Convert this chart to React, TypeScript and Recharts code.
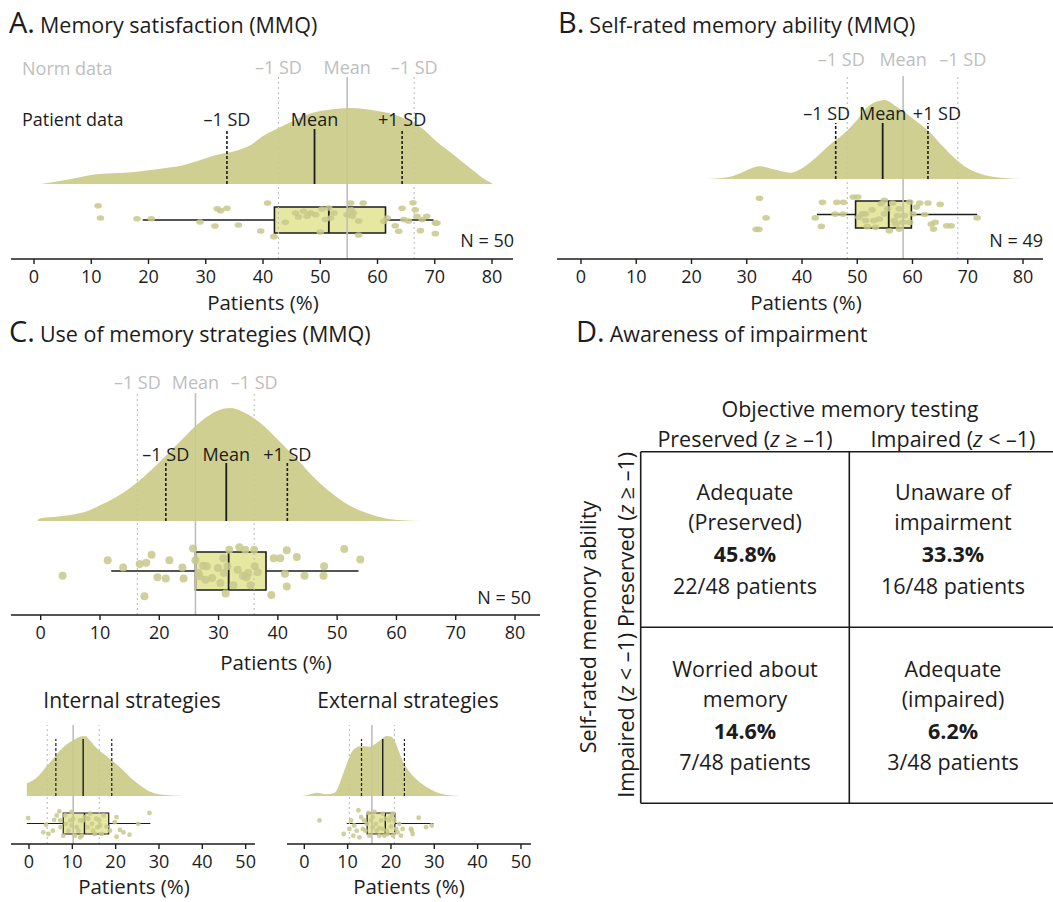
import React from 'react';
import {
  ComposedChart,
  Area,
  Scatter,
  XAxis,
  YAxis,
  ReferenceLine,
  ReferenceArea,
  ReferenceDot,
} from 'recharts';

const FONT = '"Open Sans", "Noto Sans", "DejaVu Sans", sans-serif';
const INK = '#1c1c1c';
const NORM = '#bebebe';
const DENS_FILL = '#c9ca84';
const BOX_FILL = '#e6e8a2';
const DOT_FILL = '#c7c88b';

// ---------- tick labels ----------
const ticks80 = [0, 10, 20, 30, 40, 50, 60, 70, 80];
const ticks50 = [0, 10, 20, 30, 40, 50];
const patientLabels = ['\u20131 SD', 'Mean', '+1 SD'];
const normLabels = ['\u20131 SD', 'Mean', '\u20131 SD'];

// ---------- A. Memory satisfaction ----------
const densityA: [number, number][] = [
  [1.2, 0], [3, 0.02], [5, 0.045], [8, 0.09], [10, 0.12], [12, 0.135], [15, 0.145], [18, 0.16],
  [20, 0.18], [23, 0.21], [25, 0.23], [28, 0.29], [30, 0.34], [33, 0.4], [35, 0.43], [38, 0.52],
  [40, 0.63], [42, 0.71], [45, 0.82], [48, 0.92], [50, 0.96], [53, 0.99], [55, 1.0], [58, 0.985],
  [60, 0.96], [63, 0.91], [65, 0.85], [68, 0.72], [70, 0.58], [72, 0.46], [75, 0.28], [77, 0.16],
  [78, 0.1], [79, 0.05], [80, 0.01],
];
const pointsA: [number, number][] = [
  [11.2, 1.1], [11.6, 0.15], [18, 0.1], [20.5, 0.1], [29, -0.15], [31.6, -0.46], [32, 0.87],
  [32.6, 0.72], [33.7, 0.9], [35.7, -0.38], [39.6, -0.85], [40.8, 1.31], [41.9, -1.28], [43.9, -0.18],
  [45.7, 0.54], [46.2, 0.23], [47.1, 0.67], [48.3, 0.54], [49.2, 0.41], [50, -0.92], [50.3, 0.85],
  [50.9, 0.03], [51.5, 0.92], [51.8, 0.15], [55.3, 1.31], [55.4, 0.79], [55.6, 0.28], [55.8, 0.54],
  [56.7, -0.08], [56.7, -1.15], [57.5, 1.31], [61.1, -0.1], [61.7, 0.15], [63.1, -0.44], [63.7, -0.87],
  [64.3, 0.9], [64.6, 0.03], [65.4, -0.08], [66.2, 1.33], [66.6, 0.79], [66.9, 0.28], [67.5, -0.82],
  [67.8, 0.03], [68.6, 0.28], [70.1, -0.23], [70.1, -1.05], [70.4, -0.23], [52.4, 0.54], [54.7, 0.41],
  [47.7, 0.28],
];
const boxA = [19, 42, 51.5, 61.4, 69.8];
const normA = [42.7, 54.7, 66.4];
const patientA = [33.7, 49, 64.3];

// ---------- B. Self-rated memory ability ----------
const densityB: [number, number][] = [
  [22.6, 0], [25, 0.01], [27, 0.03], [29, 0.08], [30, 0.11], [32.5, 0.16], [35, 0.12], [38, 0.08],
  [40, 0.135], [42, 0.24], [45, 0.43], [48, 0.6], [50, 0.75], [52, 0.92], [53.5, 0.98], [55, 1.0],
  [57, 0.92], [60, 0.77], [63, 0.6], [65, 0.45], [68, 0.24], [70, 0.135], [73, 0.05], [76, 0.015],
  [79.7, 0],
];
const pointsB: [number, number][] = [
  [32.3, 1.2], [33.5, -0.25], [31.7, -1.1], [32.2, -1.1], [42.4, -0.25], [43.5, -0.88], [43.7, 0.9],
  [46.3, 0.9], [47.5, 0.9], [46, 0.03], [47.4, 0.03], [49.3, 1.3], [50.1, 1.3], [50.3, -0.2],
  [50.9, 0.05], [51.5, -0.45], [51.8, -0.9], [52.7, 0.35], [53.3, -0.95], [54, -0.33], [54.3, 0.8],
  [54.9, 0.05], [55.5, 0.43], [55.8, -1.2], [56.4, 0.85], [56.7, -0.45], [57.3, -0.08], [57.6, 0.43],
  [57.6, -1.08], [58.2, -0.58], [58.5, -0.08], [59.5, 0.93], [59.5, -0.58], [60.1, 0.05], [60.7, 0.55],
  [61.3, 0.85], [62.2, 0], [62.8, 0.85], [63.4, -0.7], [63.8, -1.08], [64.1, -0.58], [65, 0.75],
  [66.2, -0.83], [67, -0.83], [71.7, -0.25], [51.5, 0.05], [53, -0.45], [57, -0.7], [54.9, 1.05],
];
const boxB = [42.7, 49.7, 55.7, 59.8, 71.7];
const normB = [48.2, 58.3, 68.2];
const patientB = [46.1, 54.6, 62.8];

// ---------- C. Use of memory strategies ----------
const densityC: [number, number][] = [
  [-0.5, 0.01], [0, 0.024], [3, 0.04], [5, 0.053], [8, 0.09], [10, 0.14], [12, 0.19], [15, 0.29],
  [18, 0.42], [21, 0.57], [24, 0.73], [27, 0.88], [30, 0.98], [32, 1.0], [34, 0.97], [37, 0.87],
  [40, 0.72], [43, 0.56], [46, 0.39], [49, 0.25], [52, 0.14], [55, 0.07], [58, 0.025], [61, 0.007],
  [64, 0],
];
const pointsC: [number, number][] = [
  [3.7, -0.25], [11.3, 0.56], [13.9, 0.19], [16.7, 0.37], [17.8, 0.44], [17.5, -1.33], [18.7, 0.86],
  [19.7, -0.33], [21.1, -0.39], [21.7, 0.56], [23.9, 0.19], [24.1, -0.39], [25.7, 1.18], [26.1, 0.56],
  [26.6, -0.11], [27.4, 0.28], [27.8, -0.46], [28.9, -0.37], [29.9, 0.16], [30.8, 0.67], [31.2, -1.19],
  [31.5, 0.25], [31.8, 1.12], [32.5, -0.75], [33.5, 1.25], [34.1, -0.25], [34.5, 1.12], [34.7, -0.33],
  [35.4, -0.75], [36, 1.12], [36.6, -0.07], [36.1, 0.25], [38.9, -1.26], [39.3, 0.67], [40.4, 0.67],
  [41.2, -0.14], [41.5, 1.09], [41.5, -0.81], [43.2, 0.74], [44.5, -0.25], [47.8, 0.25], [47.7, -0.25],
  [51.2, 1.16], [53.9, 0.6], [30.9, -0.11], [28, 0.25], [26.8, -0.28], [33.2, 0.07], [35, -0.11],
  [30.3, -0.63],
];
const boxC = [11.9, 26.1, 31.7, 38.0, 53.6];
const normC = [16.3, 26.1, 36.0];
const patientC = [21.1, 31.3, 41.6];

// ---------- Internal strategies ----------
const densityInt: [number, number][] = [
  [-0.5, 0.21], [2, 0.32], [4, 0.49], [6, 0.66], [8, 0.82], [10, 0.92], [12, 0.99], [13, 1.0],
  [14, 0.93], [16, 0.77], [18, 0.66], [20, 0.54], [22, 0.41], [24, 0.27], [26, 0.16], [28, 0.07],
  [30, 0.03], [33, 0.01], [36, 0],
];
const pointsInt: [number, number][] = [
  [-0.2, 0.52], [3.3, -0.84], [3.9, -0.13], [4.5, -1.0], [5.5, -0.68], [5.8, 0.35], [6.4, 0.77],
  [7, 1.16], [7.3, -0.35], [8.3, 0.77], [8.5, -0.03], [9.1, -0.68], [9.8, 1.1], [10.2, 0.45],
  [10.6, -1.16], [11, -0.35], [11.4, -0.68], [11.8, -1.32], [12.2, -1.16], [12.5, 0.29], [12.9, 0.61],
  [13.5, -0.35], [14.1, 0.94], [14.5, -0.03], [14.8, -0.68], [15.5, 0.45], [15.8, -0.35], [16.2, 0.29],
  [16.8, -1.0], [17.2, 0.77], [17.9, -0.29], [19.8, 0.13], [20.2, 0.61], [20.2, -1.26], [21, -0.61],
  [21.8, -0.84], [23.2, -1.06], [25.2, -0.03], [27.8, 1.0], [9.5, 0.29], [7.9, -1.16], [13.7, 0.45],
  [16.4, -0.19], [18.7, -0.68], [9.8, -0.19], [11.8, 0.29], [15.2, -1.0], [7.2, 0.29],
];
const boxInt = [-0.5, 7.9, 12.8, 18.4, 28.0];
const normInt = [4.2, 10.2, 16.2];
const patientInt = [6.2, 12.5, 19.1];

// ---------- External strategies ----------
const densityExt: [number, number][] = [
  [-0.5, 0], [1, 0.02], [3, 0.055], [5, 0.03], [7, 0.055], [8, 0.18], [9, 0.38], [10, 0.57],
  [11, 0.74], [12, 0.81], [13, 0.83], [14, 0.83], [15, 0.82], [16, 0.85], [17, 0.9], [18, 0.96],
  [19, 1.0], [20, 0.99], [21, 0.9], [22, 0.71], [23, 0.54], [24, 0.43], [26, 0.27], [28, 0.16],
  [30, 0.08], [32, 0.03], [34, 0.01], [36, 0],
];
const pointsExt: [number, number][] = [
  [3.5, 0.29], [9.1, -1.0], [10.4, -0.52], [10.8, 0.29], [11.3, -1.16], [11.5, -0.19], [12.1, -0.68],
  [12.5, 1.26], [12.7, -1.32], [13.1, 0.61], [13.5, -0.52], [14.1, -0.68], [14.4, -0.03], [14.8, 1.0],
  [15.4, 0.29], [15.8, 0.61], [16.2, 1.1], [16.7, -0.68], [17.3, -0.42], [17.7, 0.29], [18.1, 0.94],
  [18.5, -1.16], [19, -0.68], [19.6, 0.29], [20, -0.29], [20.4, 0.94], [20.5, -1.16], [20.8, 0.29],
  [21.2, -0.52], [21.5, -0.84], [22.3, -1.16], [22.7, -0.52], [24.6, -0.52], [25, -1.0], [24.8, -0.68],
  [26.4, 0.55], [28.1, -0.35], [29.4, -0.19], [19.2, -1.0], [17.3, -1.16], [15, -1.16], [13.8, 0.29],
  [18.8, 0.45], [16.5, -0.03], [20, 0.61], [15.8, -0.35], [18.1, -0.52], [21.9, -0.03],
];
const boxExt = [9.8, 14.5, 18.7, 20.9, 29.8];
const normExt = [10.4, 15.6, 20.8];
const patientExt = [13.2, 18.1, 23.1];

// ---------- D. Awareness of impairment ----------
const colTitle = 'Objective memory testing';
const rowTitle = 'Self-rated memory ability';
const headerWords = ['Preserved', 'Impaired'];
const headerConds = ['\u2265 \u20131)', '< \u20131)'];
const cellLabels = [
  ['Adequate', '(Preserved)'],
  ['Unaware of', 'impairment'],
  ['Worried about', 'memory'],
  ['Adequate', '(impaired)'],
];
const cellPct = ['45.8%', '33.3%', '14.6%', '6.2%'];
const cellCounts = ['22/48 patients', '16/48 patients', '7/48 patients', '3/48 patients'];

// ---------- layout ----------
type Layout = {
  left: number; top: number; width: number; height: number;
  plotTop: number; axisY: number; axisL: number; axisR: number;
  x0: number; ppu: number; ticks: number[];
  densBase: number; densPeak: number;
  boxTop: number; boxBottom: number;
  normTop: number; patTop: number;
  normLabelY?: number; patLabelY?: number;
  normDx?: number[]; patDx?: number[];
  rx: number; ry: number;
  thin?: boolean;
};

const XH = 40;

const LA: Layout = {
  left: 0, top: 0, width: 530, height: 330, plotTop: 50, axisY: 259, axisL: 11, axisR: 513,
  x0: 34, ppu: 5.725, ticks: ticks80, densBase: 184, densPeak: 108, boxTop: 207, boxBottom: 233,
  normTop: 77, patTop: 129, normLabelY: 67, patLabelY: 119, rx: 3.8, ry: 2.8,
};
const LB: Layout = {
  left: 530, top: 0, width: 523, height: 330, plotTop: 50, axisY: 259, axisL: 557, axisR: 1043,
  x0: 581, ppu: 5.525, ticks: ticks80, densBase: 179, densPeak: 100, boxTop: 201, boxBottom: 228,
  normTop: 76, patTop: 123, normLabelY: 59, patLabelY: 113, normDx: [-6, 0, 5], patDx: [-9, 0, 9],
  rx: 3.8, ry: 2.8,
};
const LC: Layout = {
  left: 0, top: 360, width: 550, height: 310, plotTop: 375, axisY: 615, axisL: 11, axisR: 540,
  x0: 40.7, ppu: 5.929, ticks: ticks80, densBase: 521, densPeak: 408, boxTop: 552, boxBottom: 590,
  normTop: 393, patTop: 463, normLabelY: 382, patLabelY: 454, rx: 4, ry: 4,
};
const LI: Layout = {
  left: 0, top: 690, width: 270, height: 212, plotTop: 715, axisY: 844, axisL: 11, axisR: 255,
  x0: 29, ppu: 4.333, ticks: ticks50, densBase: 796, densPeak: 736, boxTop: 813, boxBottom: 834,
  normTop: 725, patTop: 739, rx: 2.4, ry: 2.4, thin: true,
};
const LE: Layout = {
  left: 280, top: 690, width: 270, height: 212, plotTop: 715, axisY: 844, axisL: 287, axisR: 531,
  x0: 304.3, ppu: 4.333, ticks: ticks50, densBase: 796, densPeak: 736, boxTop: 813, boxBottom: 834,
  normTop: 725, patTop: 739, rx: 2.4, ry: 2.4, thin: true,
};

type PanelProps = {
  L: Layout;
  density: [number, number][];
  points: [number, number][];
  box: number[];
  norm: number[];
  patient: number[];
};

function Raincloud({ L, density, points, box, norm, patient }: PanelProps) {
  const plotH = L.axisY - L.plotTop;
  const toY = (py: number) => L.axisY - py;
  const dMin = (L.axisL - L.x0) / L.ppu;
  const dMax = (L.axisR - L.x0) / L.ppu;
  const base = toY(L.densBase);
  const amp = L.densBase - L.densPeak;
  const densData = density.map(([x, h]) => ({ x, y: [base, base + h * amp] }));
  const bc = toY((L.boxTop + L.boxBottom) / 2);
  const bh = (L.boxBottom - L.boxTop) / 2;
  const ptsData = points.map(([x, j]) => ({ x, y: bc + j * bh }));
  const normTopY = toY(L.normTop);
  const patTopY = toY(L.patTop);
  const lw = L.thin ? 1.2 : 1.6;
  const [lo, q1, med, q3, hi] = box;
  const margin = {
    top: L.plotTop - L.top,
    left: L.axisL - L.left,
    right: L.left + L.width - L.axisR,
    bottom: L.top + L.height - L.axisY - XH,
  };
  const underMargin = { ...margin, bottom: L.top + L.height - L.axisY };

  const label = (txt: string, color: string, dx: number) => (p: any) => (
    <text
      x={(p.cx ?? 0) + dx}
      y={p.cy ?? 0}
      textAnchor="middle"
      dominantBaseline="central"
      fontFamily={FONT}
      fontSize={18}
      fill={color}
    >
      {txt}
    </text>
  );

  const normLine = (v: number, i: number, y0: number, y1: number, key: string) => (
    <ReferenceLine
      key={key}
      segment={[{ x: v, y: y0 }, { x: v, y: y1 }]}
      stroke={NORM}
      strokeWidth={i === 1 ? 1.6 : 1.1}
      strokeDasharray={i === 1 ? undefined : '2 3'}
    />
  );

  return (
    <div style={{ position: 'absolute', left: L.left, top: L.top, width: L.width, height: L.height }}>
      {/* underlay: norm reference lines that sit behind the density cloud */}
      <div style={{ position: 'absolute', left: 0, top: 0 }}>
        <ComposedChart width={L.width} height={L.height} data={densData} margin={underMargin}>
          <XAxis type="number" dataKey="x" domain={[dMin, dMax]} allowDataOverflow hide />
          <YAxis type="number" hide domain={[0, plotH]} allowDataOverflow />
          {norm.map((v, i) => normLine(v, i, base, normTopY, 'u' + i))}
        </ComposedChart>
      </div>
      <div style={{ position: 'absolute', left: 0, top: 0 }}>
        <ComposedChart width={L.width} height={L.height} data={densData} margin={margin}>
          <XAxis
            type="number"
            dataKey="x"
            domain={[dMin, dMax]}
            allowDataOverflow
            ticks={L.ticks}
            interval={0}
            height={XH}
            tickSize={5}
            tickMargin={6}
            axisLine={{ stroke: INK, strokeWidth: 1.6 }}
            tickLine={{ stroke: INK, strokeWidth: 1.4 }}
            tick={{ fontSize: 18, fill: INK, fontFamily: FONT }}
          />
          <YAxis type="number" hide domain={[0, plotH]} allowDataOverflow />
          <Area
            dataKey="y"
            type="monotone"
            stroke="none"
            fill={DENS_FILL}
            fillOpacity={0.9}
            dot={false}
            activeDot={false}
            isAnimationActive={false}
          />
          {patient.map((v, i) => (
            <ReferenceLine
              key={'p' + i}
              segment={[{ x: v, y: base }, { x: v, y: patTopY }]}
              stroke={INK}
              strokeWidth={i === 1 ? lw + 0.2 : lw}
              strokeDasharray={i === 1 ? undefined : '3 2'}
            />
          ))}
          <ReferenceLine segment={[{ x: lo, y: bc }, { x: q1, y: bc }]} stroke={INK} strokeWidth={lw - 0.2} />
          <ReferenceLine segment={[{ x: q3, y: bc }, { x: hi, y: bc }]} stroke={INK} strokeWidth={lw - 0.2} />
          <ReferenceArea
            x1={q1}
            x2={q3}
            y1={bc - bh}
            y2={bc + bh}
            fill={BOX_FILL}
            fillOpacity={1}
            stroke={INK}
            strokeWidth={lw}
          />
          <ReferenceLine segment={[{ x: med, y: bc - bh }, { x: med, y: bc + bh }]} stroke={INK} strokeWidth={lw + 0.2} />
          {norm.map((v, i) => normLine(v, i, 0, base, 'n' + i))}
          <Scatter
            data={ptsData}
            dataKey="y"
            isAnimationActive={false}
            shape={(p: any) => (
              <ellipse cx={p.cx} cy={p.cy} rx={L.rx} ry={L.ry} fill={DOT_FILL} fillOpacity={0.85} />
            )}
          />
          {L.normLabelY !== undefined &&
            norm.map((v, i) => (
              <ReferenceDot
                key={'nl' + i}
                x={v}
                y={toY(L.normLabelY as number)}
                r={0}
                shape={label(normLabels[i], NORM, L.normDx ? L.normDx[i] : 0)}
              />
            ))}
          {L.patLabelY !== undefined &&
            patient.map((v, i) => (
              <ReferenceDot
                key={'pl' + i}
                x={v}
                y={toY(L.patLabelY as number)}
                r={0}
                shape={label(patientLabels[i], INK, L.patDx ? L.patDx[i] : 0)}
              />
            ))}
        </ComposedChart>
      </div>
    </div>
  );
}

function Title({ x, y, letter, text }: { x: number; y: number; letter: string; text: string }) {
  return (
    <text x={x} y={y} fontFamily={FONT} fill={INK}>
      <tspan fontSize={29}>{letter}</tspan>
      <tspan fontSize={21.5} dx={5}>{text}</tspan>
    </text>
  );
}

function Overlay() {
  const t = { fontFamily: FONT, fill: INK, dominantBaseline: 'central' as const };
  const fs = 21.5;
  const tableL = 640.7;
  const tableM = 849.3;
  const tableR = 1053;
  const tableT = 451.7;
  const tableMid = 627.3;
  const tableB = 803.3;
  const colX = [745, 953];
  const rowLines = [
    [491.7, 521.7, 553.3, 585],
    [668.3, 698.3, 730, 761.7],
  ];
  return (
    <svg
      width={1053}
      height={902}
      style={{ position: 'absolute', left: 0, top: 0, pointerEvents: 'none' }}
    >
      <Title x={9} y={33} letter="A." text="Memory satisfaction (MMQ)" />
      <Title x={558} y={33} letter="B." text="Self-rated memory ability (MMQ)" />
      <Title x={9} y={342} letter="C." text="Use of memory strategies (MMQ)" />
      <Title x={576} y={342} letter="D." text="Awareness of impairment" />

      <text x={22} y={68} {...t} fill={NORM} fontSize={18}>Norm data</text>
      <text x={22} y={119} {...t} fontSize={18}>Patient data</text>

      <text x={514} y={240} {...t} fontSize={18} textAnchor="end">N = 50</text>
      <text x={1043} y={240} {...t} fontSize={18} textAnchor="end">N = 49</text>
      <text x={531} y={597} {...t} fontSize={18} textAnchor="end">N = 50</text>

      <text x={263} y={302} {...t} fontSize={20.5} textAnchor="middle">Patients (%)</text>
      <text x={806} y={302} {...t} fontSize={20.5} textAnchor="middle">Patients (%)</text>
      <text x={276} y={662} {...t} fontSize={20.5} textAnchor="middle">Patients (%)</text>
      <text x={134} y={886} {...t} fontSize={20.5} textAnchor="middle">Patients (%)</text>
      <text x={409} y={886} {...t} fontSize={20.5} textAnchor="middle">Patients (%)</text>

      <text x={132} y={700} {...t} fontSize={21} textAnchor="middle">Internal strategies</text>
      <text x={408} y={700} {...t} fontSize={21} textAnchor="middle">External strategies</text>

      {/* Panel D */}
      <text x={850} y={408} {...t} fontSize={fs} textAnchor="middle">{colTitle}</text>
      {headerWords.map((w, i) => (
        <text key={'h' + i} x={colX[i]} y={438} {...t} fontSize={fs} textAnchor="middle">
          {w} (<tspan fontStyle="italic">z</tspan> {headerConds[i]}
        </text>
      ))}
      {headerWords.map((w, i) => (
        <text
          key={'r' + i}
          x={0}
          y={0}
          {...t}
          fontSize={fs}
          textAnchor="middle"
          transform={`translate(625 ${i === 0 ? 539.5 : 715.3}) rotate(-90)`}
        >
          {w} (<tspan fontStyle="italic">z</tspan> {headerConds[i]}
        </text>
      ))}
      <text
        x={0}
        y={0}
        {...t}
        fontSize={fs}
        textAnchor="middle"
        transform="translate(587 627) rotate(-90)"
      >
        {rowTitle}
      </text>

      <g stroke={INK} strokeWidth={1.6}>
        <line x1={tableL} y1={tableT} x2={tableR} y2={tableT} />
        <line x1={tableL} y1={tableMid} x2={tableR} y2={tableMid} />
        <line x1={tableL} y1={tableB} x2={tableR} y2={tableB} />
        <line x1={tableL} y1={tableT} x2={tableL} y2={tableB} />
        <line x1={tableM} y1={tableT} x2={tableM} y2={tableB} />
      </g>

      {cellLabels.map((lines, k) => {
        const cx = colX[k % 2];
        const ys = rowLines[Math.floor(k / 2)];
        return (
          <g key={'c' + k}>
            <text x={cx} y={ys[0]} {...t} fontSize={fs} textAnchor="middle">{lines[0]}</text>
            <text x={cx} y={ys[1]} {...t} fontSize={fs} textAnchor="middle">{lines[1]}</text>
            <text x={cx} y={ys[2]} {...t} fontSize={fs} fontWeight="bold" textAnchor="middle">{cellPct[k]}</text>
            <text x={cx} y={ys[3]} {...t} fontSize={fs} textAnchor="middle">{cellCounts[k]}</text>
          </g>
        );
      })}
    </svg>
  );
}

export default function App() {
  return (
    <div
      style={{
        position: 'absolute',
        left: 0,
        top: 0,
        width: 1053,
        height: 902,
        background: '#ffffff',
        overflow: 'hidden',
        fontFamily: FONT,
      }}
    >
      <Raincloud L={LA} density={densityA} points={pointsA} box={boxA} norm={normA} patient={patientA} />
      <Raincloud L={LB} density={densityB} points={pointsB} box={boxB} norm={normB} patient={patientB} />
      <Raincloud L={LC} density={densityC} points={pointsC} box={boxC} norm={normC} patient={patientC} />
      <Raincloud L={LI} density={densityInt} points={pointsInt} box={boxInt} norm={normInt} patient={patientInt} />
      <Raincloud L={LE} density={densityExt} points={pointsExt} box={boxExt} norm={normExt} patient={patientExt} />
      <Overlay />
    </div>
  );
}
